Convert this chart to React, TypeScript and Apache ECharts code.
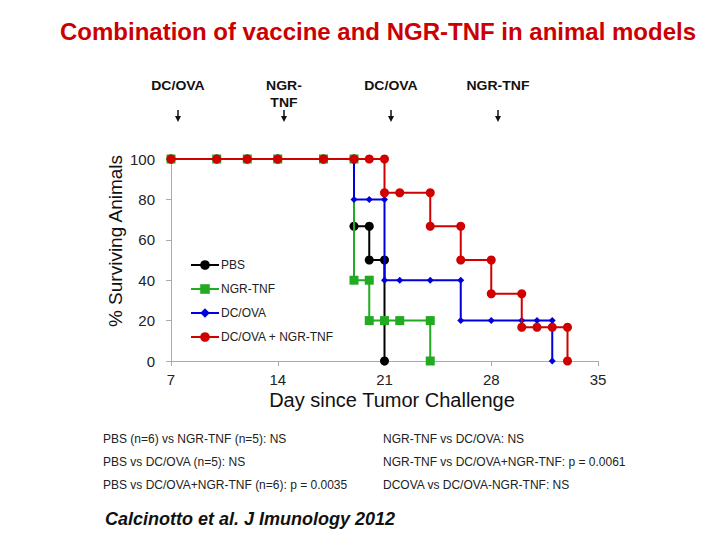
import React, { useEffect, useRef } from "react";
import * as echarts from "echarts";

const seriesNames = ["PBS", "NGR-TNF", "DC/OVA", "DC/OVA + NGR-TNF"];

const pbsDays = [7, 10, 12, 14, 17, 19, 19, 20, 20, 21, 21];
const pbsSurv = [100, 100, 100, 100, 100, 100, 66.7, 66.7, 50, 50, 0];

const ngrDays = [7, 10, 12, 14, 17, 19, 19, 20, 20, 21, 22, 24, 24];
const ngrSurv = [100, 100, 100, 100, 100, 100, 40, 40, 20, 20, 20, 20, 0];

const dcDays = [7, 10, 12, 14, 17, 19, 19, 20, 21, 21, 22, 24, 26, 26, 28, 30, 31, 32, 32];
const dcSurv = [100, 100, 100, 100, 100, 100, 80, 80, 80, 40, 40, 40, 40, 20, 20, 20, 20, 20, 0];

const comboDays = [7, 10, 12, 14, 17, 19, 20, 21, 21, 22, 24, 24, 26, 26, 28, 28, 30, 30, 31, 32, 33, 33];
const comboSurv = [100, 100, 100, 100, 100, 100, 100, 100, 83.3, 83.3, 83.3, 66.7, 66.7, 50, 50, 33.3, 33.3, 16.7, 16.7, 16.7, 16.7, 0];

const xTicks = [7, 14, 21, 28, 35];
const yTicks = [0, 20, 40, 60, 80, 100];

const treatmentLabels = ["DC/OVA", "NGR-\nTNF", "DC/OVA", "NGR-TNF"];
const statsLeft = [
  "PBS (n=6) vs NGR-TNF (n=5): NS",
  "PBS vs DC/OVA (n=5): NS",
  "PBS vs DC/OVA+NGR-TNF (n=6): p = 0.0035",
];
const statsRight = [
  "NGR-TNF vs DC/OVA: NS",
  "NGR-TNF vs DC/OVA+NGR-TNF: p = 0.0061",
  "DCOVA vs DC/OVA-NGR-TNF: NS",
];
const titleText = "Combination of vaccine and NGR-TNF in animal models";
const yAxisTitle = "% Surviving Animals";
const xAxisTitle = "Day since Tumor Challenge";
const citation = "Calcinotto et al. J Imunology 2012";

const FONT = "Arial, 'Liberation Sans', sans-serif";

const zip = (xs: number[], ys: number[]) => xs.map((x, i) => [x, ys[i]]);

export default function App() {
  const ref = useRef<HTMLDivElement>(null);
  useEffect(() => {
    if (!ref.current) return;
    const chart = echarts.init(ref.current, null, { renderer: "svg" });
    const colors = ["#000000", "#22aa22", "#0000dd", "#d00000"];
    const symbols = ["circle", "rect", "diamond", "circle"];
    const sizes = [9, 9, 7, 9];
    const datas = [
      zip(pbsDays, pbsSurv),
      zip(ngrDays, ngrSurv),
      zip(dcDays, dcSurv),
      zip(comboDays, comboSurv),
    ];
    const arrowX = [178, 284, 391, 498];
    const graphics: any[] = [];
    treatmentLabels.forEach((t, i) => {
      graphics.push({
        type: "text",
        x: arrowX[i],
        y: 77,
        scaleX: 1.17,
        style: {
          text: t,
          font: `bold 12px ${FONT}`,
          fill: "#111",
          align: "center",
          verticalAlign: "top",
          lineHeight: 17,
        },
      });
      graphics.push({
        type: "line",
        shape: { x1: arrowX[i], y1: 110, x2: arrowX[i], y2: 118 },
        style: { stroke: "#111", lineWidth: 1.5 },
      });
      graphics.push({
        type: "polygon",
        shape: { points: [[arrowX[i] - 3, 116], [arrowX[i] + 3, 116], [arrowX[i], 122]] },
        style: { fill: "#111" },
      });
    });
    graphics.push({
      type: "text",
      x: 115,
      y: 241,
      rotation: Math.PI / 2,
      style: {
        text: yAxisTitle,
        font: `19px ${FONT}`,
        fill: "#111",
        align: "center",
        verticalAlign: "middle",
      },
    });
    graphics.push({
      type: "text",
      x: 392,
      y: 400,
      z: 10,
      style: {
        text: xAxisTitle,
        font: `20px ${FONT}`,
        fill: "#111",
        align: "center",
        verticalAlign: "middle",
      },
    });
    statsLeft.forEach((t, i) => {
      graphics.push({
        type: "text",
        x: 103,
        y: 439 + i * 23,
        style: { text: t, font: `12px ${FONT}`, fill: "#222", verticalAlign: "middle" },
      });
    });
    statsRight.forEach((t, i) => {
      graphics.push({
        type: "text",
        x: 383,
        y: 439 + i * 23,
        style: { text: t, font: `12px ${FONT}`, fill: "#222", verticalAlign: "middle" },
      });
    });
    graphics.push({
      type: "text",
      x: 105,
      y: 519,
      style: { text: citation, font: `italic bold 18px ${FONT}`, fill: "#111", verticalAlign: "middle" },
    });

    chart.setOption({
      animation: false,
      backgroundColor: "#ffffff",
      title: {
        text: titleText,
        left: 373,
        top: 14,
        textAlign: "center",
        textStyle: { color: "#cc0000", fontSize: 24, fontWeight: "bold", fontFamily: FONT },
      },
      grid: { left: 171, top: 159, width: 427, height: 202, containLabel: false },
      legend: {
        orient: "vertical",
        left: 190,
        top: 259,
        padding: 0,
        itemWidth: 28,
        itemHeight: 12,
        itemGap: 12,
        data: seriesNames,
        textStyle: {
          fontSize: 12,
          lineHeight: 12,
          fontFamily: FONT,
          color: "#222",
          padding: [0, 0, 0, -3],
        },
      },
      xAxis: {
        type: "value",
        min: 7,
        max: 35,
        interval: 7,
        axisLine: { lineStyle: { color: "#aaaaaa" } },
        axisTick: { show: true, length: 5, lineStyle: { color: "#aaaaaa" } },
        axisLabel: {
          fontSize: 15,
          lineHeight: 15,
          fontFamily: FONT,
          color: "#222",
          margin: 11,
          formatter: (v: number) => (xTicks.includes(v) ? String(v) : ""),
        },
        splitLine: { show: false },
      },
      yAxis: {
        type: "value",
        min: 0,
        max: 100,
        interval: 20,
        axisLine: { show: true, lineStyle: { color: "#aaaaaa" } },
        axisTick: { show: true, length: 5, lineStyle: { color: "#aaaaaa" } },
        axisLabel: {
          fontSize: 15,
          fontFamily: FONT,
          color: "#222",
          margin: 16,
          formatter: (v: number) => (yTicks.includes(v) ? String(v) : ""),
        },
        splitLine: { show: false },
      },
      series: seriesNames.map((n, i) => ({
        name: n,
        type: "line",
        data: datas[i],
        symbol: symbols[i],
        symbolSize: sizes[i],
        showAllSymbol: true,
        color: colors[i],
        lineStyle: { color: colors[i], width: 2 },
        itemStyle: { color: colors[i] },
        z: 2 + i,
      })),
      graphic: graphics,
    });
    return () => chart.dispose();
  }, []);
  return (
    <div
      ref={ref}
      style={{ position: "absolute", left: 0, top: 0, width: 720, height: 540 }}
    />
  );
}
